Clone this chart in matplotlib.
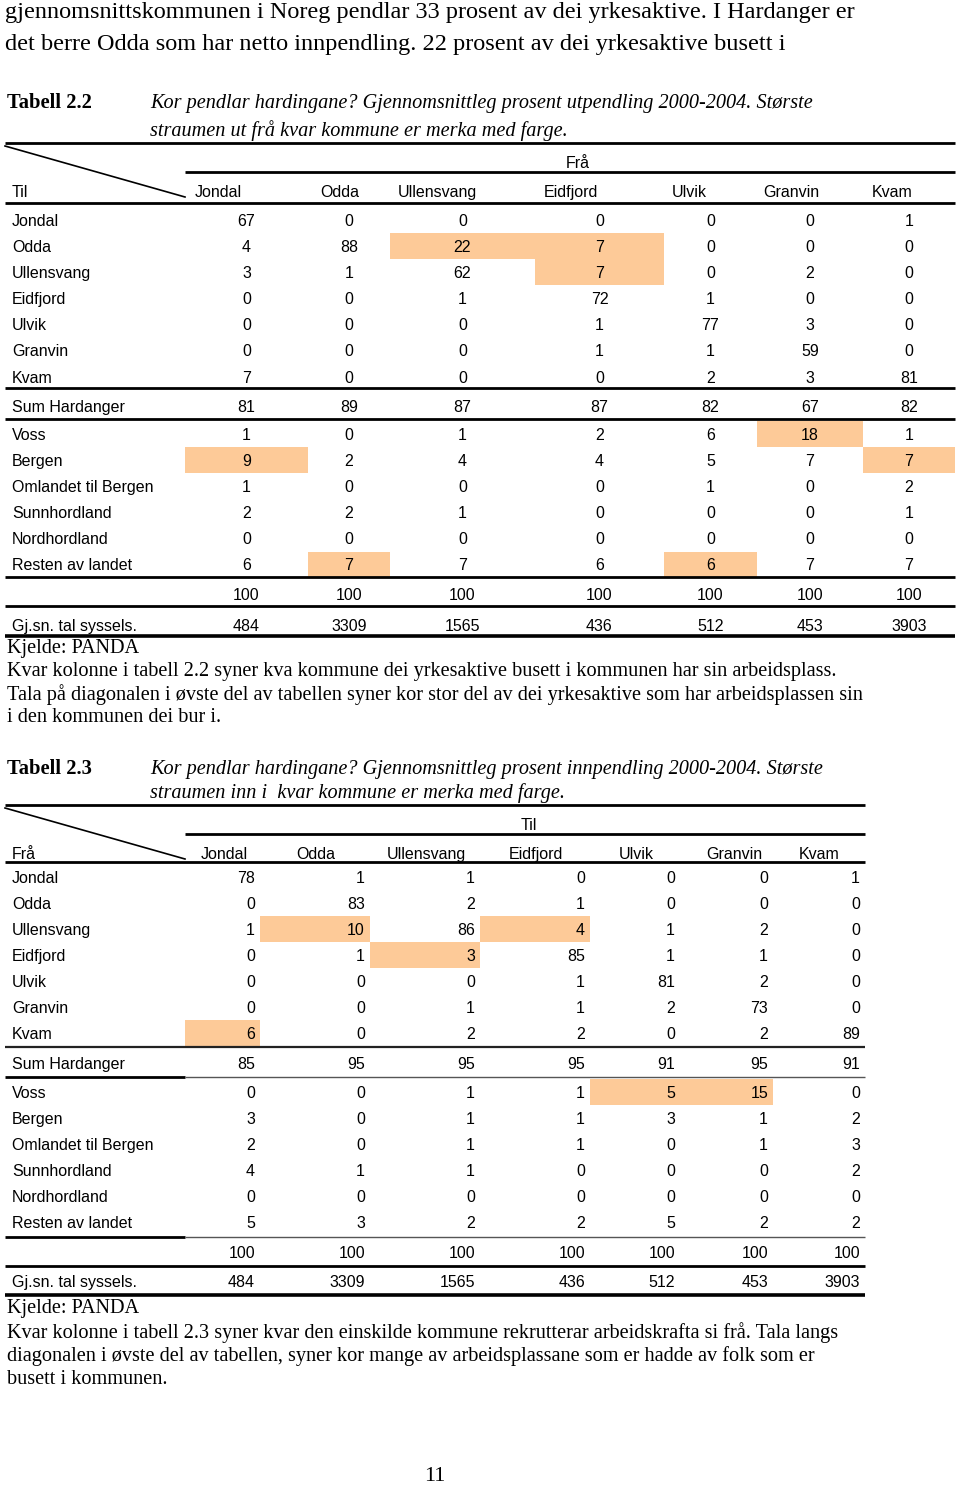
import matplotlib.pyplot as plt
from matplotlib.patches import Rectangle

# --- data ---------------------------------------------------------------
KOMMUNAR = ["Jondal", "Odda", "Ullensvang", "Eidfjord", "Ulvik", "Granvin", "Kvam"]
RADER_HARDANGER = ["Jondal", "Odda", "Ullensvang", "Eidfjord", "Ulvik", "Granvin", "Kvam"]
RADER_ANDRE = ["Voss", "Bergen", "Omlandet til Bergen", "Sunnhordland", "Nordhordland",
               "Resten av landet"]

UT_HARDANGER = [
    [67, 0, 0, 0, 0, 0, 1],
    [4, 88, 22, 7, 0, 0, 0],
    [3, 1, 62, 7, 0, 2, 0],
    [0, 0, 1, 72, 1, 0, 0],
    [0, 0, 0, 1, 77, 3, 0],
    [0, 0, 0, 1, 1, 59, 0],
    [7, 0, 0, 0, 2, 3, 81],
]
UT_SUM = [81, 89, 87, 87, 82, 67, 82]
UT_ANDRE = [
    [1, 0, 1, 2, 6, 18, 1],
    [9, 2, 4, 4, 5, 7, 7],
    [1, 0, 0, 0, 1, 0, 2],
    [2, 2, 1, 0, 0, 0, 1],
    [0, 0, 0, 0, 0, 0, 0],
    [6, 7, 7, 6, 6, 7, 7],
]
# (rad, kolonne) som er merka med farge
UT_MERKA = [("Odda", "Ullensvang"), ("Odda", "Eidfjord"), ("Ullensvang", "Eidfjord"),
            ("Voss", "Granvin"), ("Bergen", "Jondal"), ("Bergen", "Kvam"),
            ("Resten av landet", "Odda"), ("Resten av landet", "Ulvik")]

INN_HARDANGER = [
    [78, 1, 1, 0, 0, 0, 1],
    [0, 83, 2, 1, 0, 0, 0],
    [1, 10, 86, 4, 1, 2, 0],
    [0, 1, 3, 85, 1, 1, 0],
    [0, 0, 0, 1, 81, 2, 0],
    [0, 0, 1, 1, 2, 73, 0],
    [6, 0, 2, 2, 0, 2, 89],
]
INN_SUM = [85, 95, 95, 95, 91, 95, 91]
INN_ANDRE = [
    [0, 0, 1, 1, 5, 15, 0],
    [3, 0, 1, 1, 3, 1, 2],
    [2, 0, 1, 1, 0, 1, 3],
    [4, 1, 1, 0, 0, 0, 2],
    [0, 0, 0, 0, 0, 0, 0],
    [5, 3, 2, 2, 5, 2, 2],
]
INN_MERKA = [("Ullensvang", "Odda"), ("Ullensvang", "Eidfjord"), ("Eidfjord", "Ullensvang"),
             ("Kvam", "Jondal"), ("Voss", "Ulvik"), ("Voss", "Granvin")]

TOTAL = [100, 100, 100, 100, 100, 100, 100]
SYSSELS = [484, 3309, 1565, 436, 512, 453, 3903]

# --- layout -------------------------------------------------------------
W, H = 960, 1486
SANS = "Liberation Sans"
SERIF = "Liberation Serif"
FARGE = "#fdca98"
FS = 11.5

fig = plt.figure(figsize=(W / 100, H / 100), dpi=100)
ax = fig.add_axes([0, 0, 1, 1])
ax.set_xlim(0, W)
ax.set_ylim(H, 0)
ax.axis("off")


def hline(y, x0, x1, lw=2.0, color="black"):
    ax.plot([x0, x1], [y, y], color=color, lw=lw, solid_capstyle="butt")


def txt(x, y, s, ha="left", size=FS, family=SANS, **kw):
    # litt ned, så midten av skrifta ligg der den skal
    ax.text(x, y + 1.5, s, ha=ha, va="center", fontsize=size, family=family, **kw)


def draw_table(top, grenser, hovud_x, rad_y, hovud, hjornetekst, data, merka,
               num_ha, lines, right_pad=0):
    left, right = 5, grenser[-1]
    x0 = grenser[0]
    hline(top, left, right)
    ax.plot([left, x0], [top + 3, top + 54], color="black", lw=1.2)
    txt((x0 + right) / 2 - 4, top + 19, hovud)
    hline(top + 29, x0, right)
    txt(12, top + 48, hjornetekst)
    for name, hx in zip(KOMMUNAR, hovud_x):
        txt(hx, top + 48, name, ha="center")

    for (r, c) in merka:
        y = rad_y[r]
        ci = KOMMUNAR.index(c)
        ax.add_patch(Rectangle((grenser[ci], y - 13), grenser[ci + 1] - grenser[ci], 26,
                               color=FARGE, lw=0, zorder=0))

    for label, values in data:
        y = rad_y[label]
        if not label.startswith("_"):
            txt(12, y, label)
        for ci, v in enumerate(values):
            if num_ha == "center":
                xv = (grenser[ci] + grenser[ci + 1]) / 2
            else:
                xv = grenser[ci + 1] - right_pad
            txt(xv, y, str(v), ha=num_ha)

    for y, x0l, x1l, lw, col in lines:
        hline(y, x0l, x1l, lw, col)


# --- body text -------------------------------------------------------------
BODY = 17.5
txt(5, 11, "gjennomsnittskommunen i Noreg pendlar 33 prosent av dei yrkesaktive. I Hardanger er",
    size=BODY, family=SERIF)
txt(5, 43, "det berre Odda som har netto innpendling. 22 prosent av dei yrkesaktive busett i",
    size=BODY, family=SERIF)

CAP = 14.6
NOTE = 14.6

# --- Tabell 2.2 --------------------------------------------------------------
txt(7, 102, "Tabell 2.2", size=14.8, family=SERIF, weight="bold")
txt(150, 102, "Kor pendlar hardingane? Gjennomsnittleg prosent utpendling 2000-2004. Største",
    size=CAP, family=SERIF, style="italic")
txt(150, 129, "straumen ut frå kvar kommune er merka med farge.",
    size=CAP, family=SERIF, style="italic")

g1 = [185, 308, 390, 535, 664, 757, 863, 955]
hx1 = [218, 340, 437, 571, 689, 791, 892]
y1 = {}
for i, r in enumerate(RADER_HARDANGER):
    y1[r] = 220 + 26.1 * i
y1["Sum Hardanger"] = 406
for i, r in enumerate(RADER_ANDRE):
    y1[r] = 434 + 26.1 * i
y1["_total"] = 594
y1["Gj.sn. tal syssels."] = 625

data1 = list(zip(RADER_HARDANGER, UT_HARDANGER)) + [("Sum Hardanger", UT_SUM)] + \
    list(zip(RADER_ANDRE, UT_ANDRE)) + [("_total", TOTAL), ("Gj.sn. tal syssels.", SYSSELS)]
lines1 = [(203, 5, 955, 2.0, "black"), (388, 5, 955, 2.0, "black"),
          (419, 5, 955, 2.0, "black"), (577, 5, 955, 2.0, "black"),
          (606, 5, 955, 2.0, "black"), (636, 5, 955, 2.6, "black")]
draw_table(143, g1, hx1, y1, "Frå", "Til", data1, UT_MERKA, "center", lines1)

txt(7, 647, "Kjelde: PANDA", size=NOTE, family=SERIF)
txt(7, 670, "Kvar kolonne i tabell 2.2 syner kva kommune dei yrkesaktive busett i kommunen har sin arbeidsplass.",
    size=NOTE, family=SERIF)
txt(7, 693, "Tala på diagonalen i øvste del av tabellen syner kor stor del av dei yrkesaktive som har arbeidsplassen sin",
    size=NOTE, family=SERIF)
txt(7, 716, "i den kommunen dei bur i.", size=NOTE, family=SERIF)

# --- Tabell 2.3 --------------------------------------------------------------
txt(7, 768, "Tabell 2.3", size=14.8, family=SERIF, weight="bold")
txt(150, 768, "Kor pendlar hardingane? Gjennomsnittleg prosent innpendling 2000-2004. Største",
    size=CAP, family=SERIF, style="italic")
txt(150, 792, "straumen inn i  kvar kommune er merka med farge.",
    size=CAP, family=SERIF, style="italic")

g2 = [185, 260, 370, 480, 590, 680, 773, 865]
hx2 = [224, 316, 426, 536, 636, 734, 819]
y2 = {}
for i, r in enumerate(RADER_HARDANGER):
    y2[r] = 877 + 26 * i
y2["Sum Hardanger"] = 1063
for i, r in enumerate(RADER_ANDRE):
    y2[r] = 1092 + 26 * i
y2["_total"] = 1252
y2["Gj.sn. tal syssels."] = 1281

data2 = list(zip(RADER_HARDANGER, INN_HARDANGER)) + [("Sum Hardanger", INN_SUM)] + \
    list(zip(RADER_ANDRE, INN_ANDRE)) + [("_total", TOTAL), ("Gj.sn. tal syssels.", SYSSELS)]
lines2 = [(862, 5, 865, 2.0, "black"), (1047, 5, 865, 1.6, "#222222"),
          (1077, 5, 185, 2.0, "black"), (1077, 185, 865, 1.0, "#555555"),
          (1237, 5, 185, 2.0, "black"), (1237, 185, 865, 1.0, "#555555"),
          (1266, 5, 865, 2.0, "black"), (1295, 5, 865, 2.6, "black")]
draw_table(805, g2, hx2, y2, "Til", "Frå", data2, INN_MERKA, "right", lines2, right_pad=5)

txt(7, 1307, "Kjelde: PANDA", size=NOTE, family=SERIF)
txt(7, 1331, "Kvar kolonne i tabell 2.3 syner kvar den einskilde kommune rekrutterar arbeidskrafta si frå. Tala langs",
    size=NOTE, family=SERIF)
txt(7, 1355, "diagonalen i øvste del av tabellen, syner kor mange av arbeidsplassane som er hadde av folk som er",
    size=NOTE, family=SERIF)
txt(7, 1378, "busett i kommunen.", size=NOTE, family=SERIF)

txt(435, 1475, "11", ha="center", size=16, family=SERIF)

fig.savefig("out.png", dpi=100)
